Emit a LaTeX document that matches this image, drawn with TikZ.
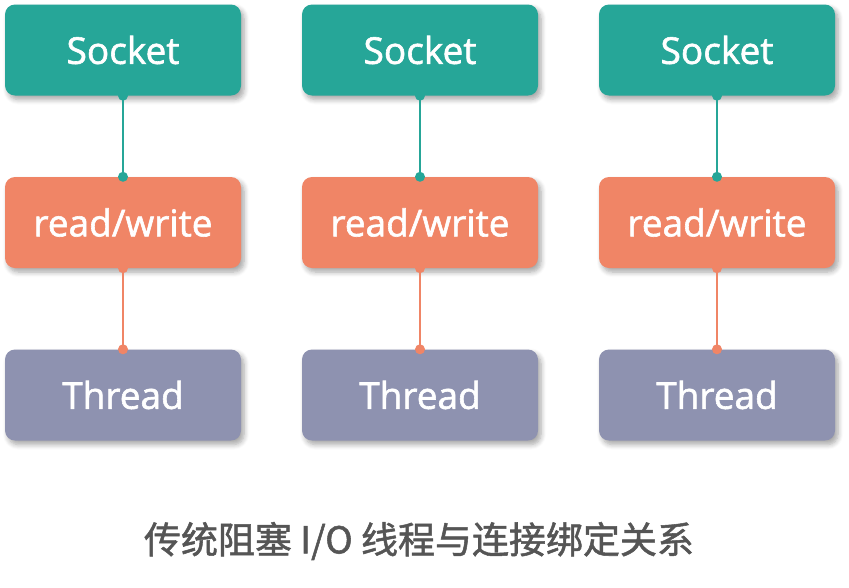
\documentclass[tikz,border=0pt]{standalone}
\usepackage{fontspec}
\setmainfont{Open Sans}
\newfontfamily\boxfont[FakeBold=1.6]{Open Sans}
\newfontfamily\cjk[FakeBold=1.4]{Noto Sans CJK SC}
\usetikzlibrary{shadows.blur}
\definecolor{cteal}{RGB}{38,166,152}
\definecolor{corange}{RGB}{240,133,102}
\definecolor{cpurple}{RGB}{142,146,176}
\definecolor{ccap}{RGB}{85,85,85}
\tikzset{
  box/.style={rounded corners=10pt, minimum width=236pt, minimum height=91pt, inner sep=0pt,
    text=white, font=\boxfont\fontsize{37}{42}\selectfont,
    blur shadow={shadow xshift=3pt, shadow yshift=-4pt, shadow blur steps=6, shadow opacity=35, shadow blur radius=5pt}},
  sockbox/.style={box, fill=cteal},
  rwbox/.style={box, fill=corange},
  thbox/.style={box, fill=cpurple},
  link/.style={line width=1.2pt},
  dot/.style={circle, inner sep=0pt, minimum size=10pt}
}
\begin{document}
\begin{tikzpicture}[x=1pt,y=-1pt]
\useasboundingbox (0,0) rectangle (849,587);
\foreach \i/\cx in {1/123,2/420,3/717}{
  \node[sockbox] (s\i) at (\cx,50) {Socket};
  \node[rwbox] (r\i) at (\cx,222.5) {read/write};
  \node[thbox] (t\i) at (\cx,395) {Thread};
  \draw[link, cteal] (s\i.south) -- (r\i.north);
  \draw[link, corange] (r\i.south) -- (t\i.north);
  \node[dot, fill=cteal] (sd\i) at (s\i.south) {};
  \node[dot, fill=cteal] (rd\i) at (r\i.north) {};
  \node[dot, fill=corange] (rb\i) at (r\i.south) {};
  \node[dot, fill=corange] (td\i) at (t\i.north) {};
}
\node[text=ccap, font=\cjk\fontsize{37}{42}\selectfont] (cap) at (419,541) {传统阻塞 I/O 线程与连接绑定关系};
\end{tikzpicture}
\end{document}
